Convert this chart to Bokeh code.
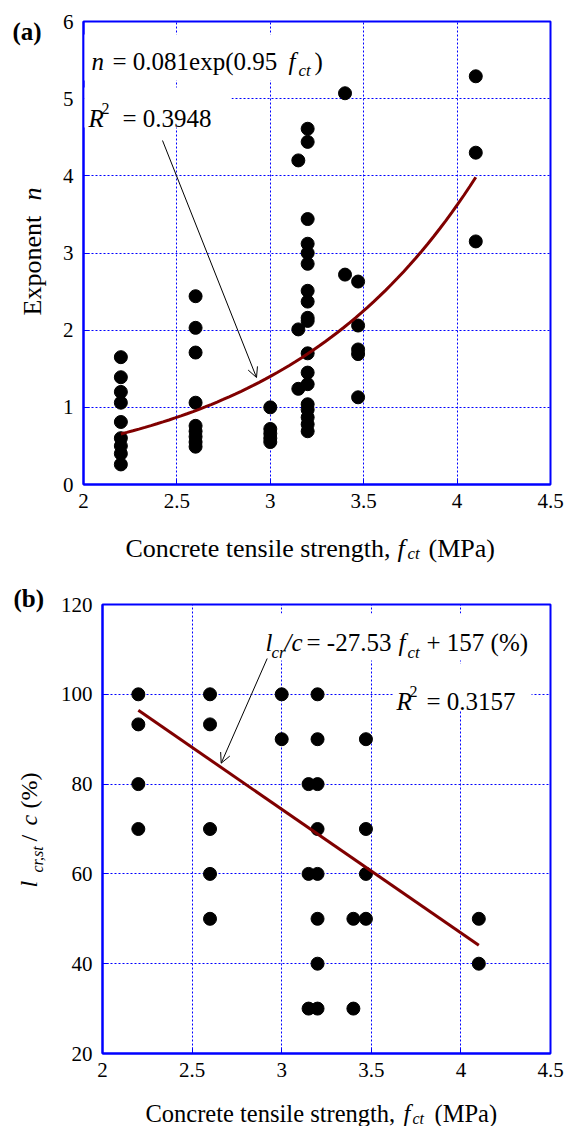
import math
import numpy as np
from bokeh.plotting import figure
from bokeh.models import Label, Arrow, OpenHead, BoxAnnotation, FixedTicker, Range1d
from bokeh.layouts import column, row
from bokeh.embed import file_html
from bokeh.resources import INLINE

# ---------------- data ----------------
x_ticks = [2, 2.5, 3, 3.5, 4, 4.5]
x_tick_labels = ["2", "2.5", "3", "3.5", "4", "4.5"]
ya_ticks = [0, 1, 2, 3, 4, 5, 6]
ya_tick_labels = ["0", "1", "2", "3", "4", "5", "6"]
yb_ticks = [20, 40, 60, 80, 100, 120]
yb_tick_labels = ["20", "40", "60", "80", "100", "120"]

# panel (a): exponent n vs concrete tensile strength
fct_a = [2.2, 2.2, 2.2, 2.2, 2.2, 2.2, 2.2, 2.2, 2.2,
         2.6, 2.6, 2.6, 2.6, 2.6, 2.6, 2.6, 2.6, 2.6,
         3.0, 3.0, 3.0, 3.0, 3.0,
         3.15, 3.15, 3.15,
         3.2, 3.2, 3.2, 3.2, 3.2, 3.2, 3.2, 3.2, 3.2,
         3.2, 3.2, 3.2, 3.2, 3.2, 3.2, 3.2, 3.2, 3.2,
         3.4, 3.4,
         3.47, 3.47, 3.47, 3.47, 3.47,
         4.1, 4.1, 4.1]
n_a = [1.65, 1.39, 1.2, 1.06, 0.81, 0.6, 0.5, 0.4, 0.26,
       2.44, 2.03, 1.71, 1.06, 0.76, 0.69, 0.62, 0.55, 0.49,
       1.0, 0.72, 0.66, 0.6, 0.55,
       4.2, 2.01, 1.24,
       4.61, 4.44, 3.44, 3.12, 3.0, 2.86, 2.51, 2.37, 2.16,
       2.12, 1.7, 1.45, 1.3, 1.04, 0.97, 0.87, 0.78, 0.69,
       5.07, 2.72,
       2.63, 2.06, 1.75, 1.69, 1.13,
       5.29, 4.3, 3.15]
fit_a_coef = 0.081
fit_a_exp = 0.95
fit_a_range = [2.2, 4.1]

# panel (b): l_cr,st / c vs concrete tensile strength
fct_b = [2.2, 2.2, 2.2, 2.2,
         2.6, 2.6, 2.6, 2.6, 2.6,
         3.0, 3.0,
         3.15, 3.15, 3.15,
         3.2, 3.2, 3.2, 3.2, 3.2, 3.2, 3.2, 3.2,
         3.4, 3.4,
         3.47, 3.47, 3.47, 3.47,
         4.1, 4.1]
lcr_b = [100, 93.3, 80, 70,
         100, 93.3, 70, 60, 50,
         100, 90,
         80, 60, 30,
         100, 90, 80, 70, 60, 50, 40, 30,
         50, 30,
         90, 70, 60, 50,
         50, 40]
fit_b_slope = -27.53
fit_b_icpt = 157.0
fit_b_range = [2.2, 4.1]

# ---------------- geometry / styling ----------------
BLUE = "#0000ff"
DARKRED = "#800000"
FONT = "Liberation Serif"
W = 566
PANEL_H = 563
YLAB_W = 48                 # width of the strip holding the rotated y titles
MAIN_W = W - YLAB_W
A_MAIN_H = 518              # main plot height of panel (a)
B_MAIN_H = 525              # main plot height of panel (b)
B_TOP = PANEL_H             # page y where panel (b) starts
XLAB_A_TOP = A_MAIN_H
XLAB_B_TOP = B_TOP + B_MAIN_H

# frame geometry (page pixels) used to place text annotations
A_L, A_R, A_T, A_B = 83, 550, 21, 484
B_L, B_R, B_T, B_B = 102, 550, 604, 1053


def ax(px):
    return 2 + (px - A_L) * 2.5 / (A_R - A_L)


def ay(py):
    return 6 - (py - A_T) * 6.0 / (A_B - A_T)


def bx(px):
    return 2 + (px - B_L) * 2.5 / (B_R - B_L)


def by(py):
    return 120 - (py - B_T) * 100.0 / (B_B - B_T)


def lab(p, x, y, text, size, style="normal", angle=0.0):
    p.add_layout(Label(x=x, y=y, text=text, text_font=FONT,
                       text_font_size=f"{size}px", text_font_style=style,
                       text_color="black", text_align="left",
                       text_baseline="alphabetic", angle=angle))


def whitebox(p, l, r, t, b):
    p.add_layout(BoxAnnotation(left=l, right=r, top=t, bottom=b,
                               fill_color="white", fill_alpha=1.0,
                               line_alpha=0.0))


def no_align(p):
    if "frame_align" in p.properties():
        p.frame_align = False


def text_fig(w, h):
    f = figure(width=w, height=h, x_range=Range1d(0, w), y_range=Range1d(h, 0),
               x_axis_type=None, y_axis_type=None, output_backend="svg",
               toolbar_location=None, min_border=0)
    f.outline_line_color = None
    f.background_fill_color = "white"
    f.border_fill_color = "white"
    no_align(f)
    return f


def style_fig(p, yt, ytl):
    no_align(p)
    p.xaxis.ticker = FixedTicker(ticks=x_ticks)
    p.yaxis.ticker = FixedTicker(ticks=yt)
    p.xaxis.major_label_overrides = {float(t): s for t, s in zip(x_ticks, x_tick_labels)}
    p.yaxis.major_label_overrides = {float(t): s for t, s in zip(yt, ytl)}
    for axis in (p.xaxis, p.yaxis):
        axis.axis_line_color = BLUE
        axis.axis_line_width = 2
        axis.major_tick_line_color = BLUE
        axis.major_tick_line_width = 1
        axis.major_tick_in = 6
        axis.major_tick_out = 0
        axis.minor_tick_line_color = None
        axis.major_label_text_font = FONT
        axis.major_label_text_font_size = "21px"
        axis.major_label_text_color = "black"
    p.xaxis.major_label_standoff = 9
    p.yaxis.major_label_standoff = 10
    p.grid.grid_line_color = BLUE
    p.grid.grid_line_dash = "2 2"
    p.grid.grid_line_width = 1
    p.outline_line_color = BLUE
    p.outline_line_width = 2
    p.background_fill_color = "white"
    p.border_fill_color = "white"


# ---------------- panel (a) ----------------
p1 = figure(width=MAIN_W, height=A_MAIN_H, x_range=(2, 4.5), y_range=(0, 6),
            output_backend="svg", toolbar_location=None,
            min_border_left=A_L - YLAB_W, min_border_right=W - A_R,
            min_border_top=A_T, min_border_bottom=A_MAIN_H - A_B)
style_fig(p1, ya_ticks, ya_tick_labels)

p1.scatter(fct_a, n_a, size=13, color="black")
xf = np.linspace(fit_a_range[0], fit_a_range[1], 60)
p1.line(xf, fit_a_coef * np.exp(fit_a_exp * xf), line_color=DARKRED, line_width=3)

whitebox(p1, ax(84), ax(330), ay(34), ay(80))
whitebox(p1, ax(84), ax(231), ay(87), ay(127))

p1.add_layout(Arrow(end=OpenHead(size=10, line_width=1, line_color="black"),
                    x_start=ax(162), y_start=ay(140), x_end=ax(256), y_end=ay(377),
                    line_width=1, line_color="black"))

lab(p1, ax(91), ay(61), "n", 25, "italic")
lab(p1, ax(112), ay(61), "= 0.081exp(0.95", 25)
lab(p1, ax(288), ay(61), "f", 25, "italic")
lab(p1, ax(298), ay(70), "ct", 17, "italic")
lab(p1, ax(314), ay(61), ")", 25)
lab(p1, ax(88), ay(118), "R", 25, "italic")
lab(p1, ax(101), ay(108), "2", 16)
lab(p1, ax(122), ay(118), "= 0.3948", 25)

ylab_a = text_fig(YLAB_W, A_MAIN_H)
lab(ylab_a, 12, 31, "(a)", 25, "bold")
lab(ylab_a, 31.5, 315, "Exponent", 26, angle=math.pi / 2)
lab(ylab_a, 31.5, 200, "n", 26, "italic", angle=math.pi / 2)

xlab_a = text_fig(W, PANEL_H - A_MAIN_H)
lab(xlab_a, 125, 548 - XLAB_A_TOP, "Concrete tensile strength,", 26)
lab(xlab_a, 397, 548 - XLAB_A_TOP, "f", 26, "italic")
lab(xlab_a, 407, 553 - XLAB_A_TOP, "ct", 17, "italic")
lab(xlab_a, 428, 548 - XLAB_A_TOP, "(MPa)", 26)

# ---------------- panel (b) ----------------
p2 = figure(width=MAIN_W, height=B_MAIN_H, x_range=(2, 4.5), y_range=(20, 120),
            output_backend="svg", toolbar_location=None,
            min_border_left=B_L - YLAB_W, min_border_right=W - B_R,
            min_border_top=B_T - B_TOP, min_border_bottom=B_TOP + B_MAIN_H - B_B)
style_fig(p2, yb_ticks, yb_tick_labels)

p2.scatter(fct_b, lcr_b, size=13, color="black")
xl = np.array(fit_b_range)
p2.line(xl, fit_b_slope * xl + fit_b_icpt, line_color=DARKRED, line_width=3)

whitebox(p2, bx(262), bx(535), by(613), by(660))
whitebox(p2, bx(393), bx(531), by(663), by(710))

p2.add_layout(Arrow(end=OpenHead(size=10, line_width=1, line_color="black"),
                    x_start=bx(266.7), y_start=by(658), x_end=bx(220.7), y_end=by(762.7),
                    line_width=1, line_color="black"))

lab(p2, bx(265), by(642), "l", 25, "italic")
lab(p2, bx(271), by(652), "cr", 17, "italic")
lab(p2, bx(284), by(642), "/c", 25, "italic")
lab(p2, bx(306), by(642), "= -27.53", 25)
lab(p2, bx(398), by(642), "f", 25, "italic")
lab(p2, bx(407), by(652), "ct", 17, "italic")
lab(p2, bx(426), by(642), "+ 157 (%)", 25)
lab(p2, bx(396), by(701), "R", 25, "italic")
lab(p2, bx(409), by(691), "2", 16)
lab(p2, bx(426), by(701), "= 0.3157", 25)

ylab_b = text_fig(YLAB_W, B_MAIN_H)
lab(ylab_b, 13, 598 - B_TOP, "(b)", 25, "bold")
lab(ylab_b, 28, 887 - B_TOP, "l", 24, "italic", angle=math.pi / 2)
lab(ylab_b, 37, 872 - B_TOP, "cr,st", 16, "italic", angle=math.pi / 2)
lab(ylab_b, 28, 841 - B_TOP, "/", 24, angle=math.pi / 2)
lab(ylab_b, 28, 825 - B_TOP, "c", 24, "italic", angle=math.pi / 2)
lab(ylab_b, 28, 808 - B_TOP, "(%)", 24, angle=math.pi / 2)

xlab_b = text_fig(W, 2 * PANEL_H - XLAB_B_TOP)
lab(xlab_b, 145, 1113 - XLAB_B_TOP, "Concrete tensile strength,", 24.5)
lab(xlab_b, 403, 1113 - XLAB_B_TOP, "f", 24.5, "italic")
lab(xlab_b, 412, 1118 - XLAB_B_TOP, "ct", 16, "italic")
lab(xlab_b, 434, 1113 - XLAB_B_TOP, "(MPa)", 24.5)

layout = column(row(ylab_a, p1, spacing=0), xlab_a,
                row(ylab_b, p2, spacing=0), xlab_b, spacing=0)
open("out.html", "w").write(file_html(layout, INLINE))
